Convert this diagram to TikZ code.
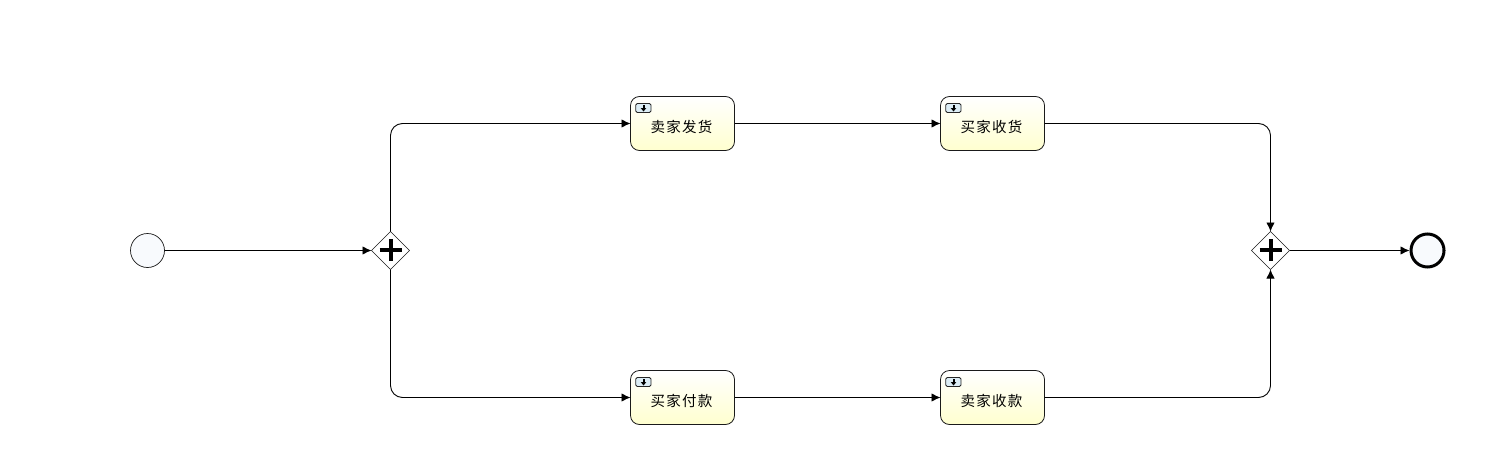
\documentclass[tikz,border=0pt]{standalone}
\usepackage{fontspec}
\setmainfont{Noto Sans CJK SC}
\usetikzlibrary{arrows.meta,shapes.geometric,calc}
\definecolor{taskyellow}{HTML}{FFFFCF}
\definecolor{eventfill}{HTML}{F8FAFD}
\definecolor{linegray}{HTML}{1A1A1A}
\definecolor{iconblue}{HTML}{DCEDF5}
\tikzset{
  x=1pt,y=-1pt,
  flow/.style={draw=black,line width=0.9pt,-{Latex[length=9pt,width=8.5pt]},rounded corners=12pt},
  taskbox/.style={draw=linegray,line width=0.8pt,rounded corners=9pt,minimum width=104pt,minimum height=54pt,inner sep=0pt,outer sep=0pt,top color=white,bottom color=taskyellow,shading angle=0,font=\fontsize{14.5pt}{14.5pt}\selectfont,text depth=0pt},
  gateway/.style={diamond,draw=linegray,fill=white,line width=0.5pt,minimum width=38pt,minimum height=38pt,inner sep=0pt,outer sep=0pt},
  startevent/.style={circle,draw=linegray,fill=eventfill,line width=0.7pt,minimum size=34pt,inner sep=0pt,outer sep=0pt},
  endevent/.style={circle,draw=black,fill=eventfill,line width=3pt,minimum size=33pt,inner sep=0pt,outer sep=1.5pt},
  plusbar/.style={line width=4pt,draw=black},
  iconbox/.style={draw=black!85,fill=iconblue,line width=0.9pt,rounded corners=1.5pt},
}
\newcommand{\spaced}[4]{\kern-2pt #1\kern1.2pt #2\kern1.2pt #3\kern1.2pt #4}
\newcommand{\plusmark}[1]{\draw[plusbar] ($(#1)+(-11,-0.5)$) -- ($(#1)+(11,-0.5)$);\draw[plusbar] ($(#1)+(0,-11.5)$) -- ($(#1)+(0,10.5)$);}
\newcommand{\taskicon}[1]{%
  \draw[iconbox] ($(#1.north west)+(5.2,7)$) rectangle ($(#1.north west)+(20.5,16)$);
  \fill[black] ($(#1.north west)+(12,8.5)$) rectangle ($(#1.north west)+(14,11.5)$);
  \fill[black] ($(#1.north west)+(10.2,11.5)$) -- ($(#1.north west)+(15.8,11.5)$) -- ($(#1.north west)+(13,15)$) -- cycle;
}
\begin{document}
\begin{tikzpicture}
\useasboundingbox[fill=white] (0,0) rectangle (1506,452);
\node[startevent] (start) at (147.5,250.5) {};
\node[gateway] (split) at (390.5,250.5) {};
\node[gateway] (join) at (1270.5,250.5) {};
\node[endevent] (end) at (1427.5,250.5) {};
\node[taskbox] (t1) at (682.5,123.5) {\raisebox{-5pt}{\spaced{卖}{家}{发}{货}}};
\node[taskbox] (t2) at (992.5,123.5) {\raisebox{-5pt}{\spaced{买}{家}{收}{货}}};
\node[taskbox] (t3) at (682.5,397.5) {\raisebox{-5pt}{\spaced{买}{家}{付}{款}}};
\node[taskbox] (t4) at (992.5,397.5) {\raisebox{-5pt}{\spaced{卖}{家}{收}{款}}};
\taskicon{t1}\taskicon{t2}\taskicon{t3}\taskicon{t4}
\plusmark{split}\plusmark{join}
\draw[flow] (start) -- (split);
\draw[flow] (split.north) |- (t1.west);
\draw[flow] (split.south) |- (t3.west);
\draw[flow] (t1) -- (t2);
\draw[flow] (t3) -- (t4);
\draw[flow] (t2.east) -| (join.north);
\draw[flow] (t4.east) -| (join.south);
\draw[flow] (join) -- (end);
\end{tikzpicture}
\end{document}
